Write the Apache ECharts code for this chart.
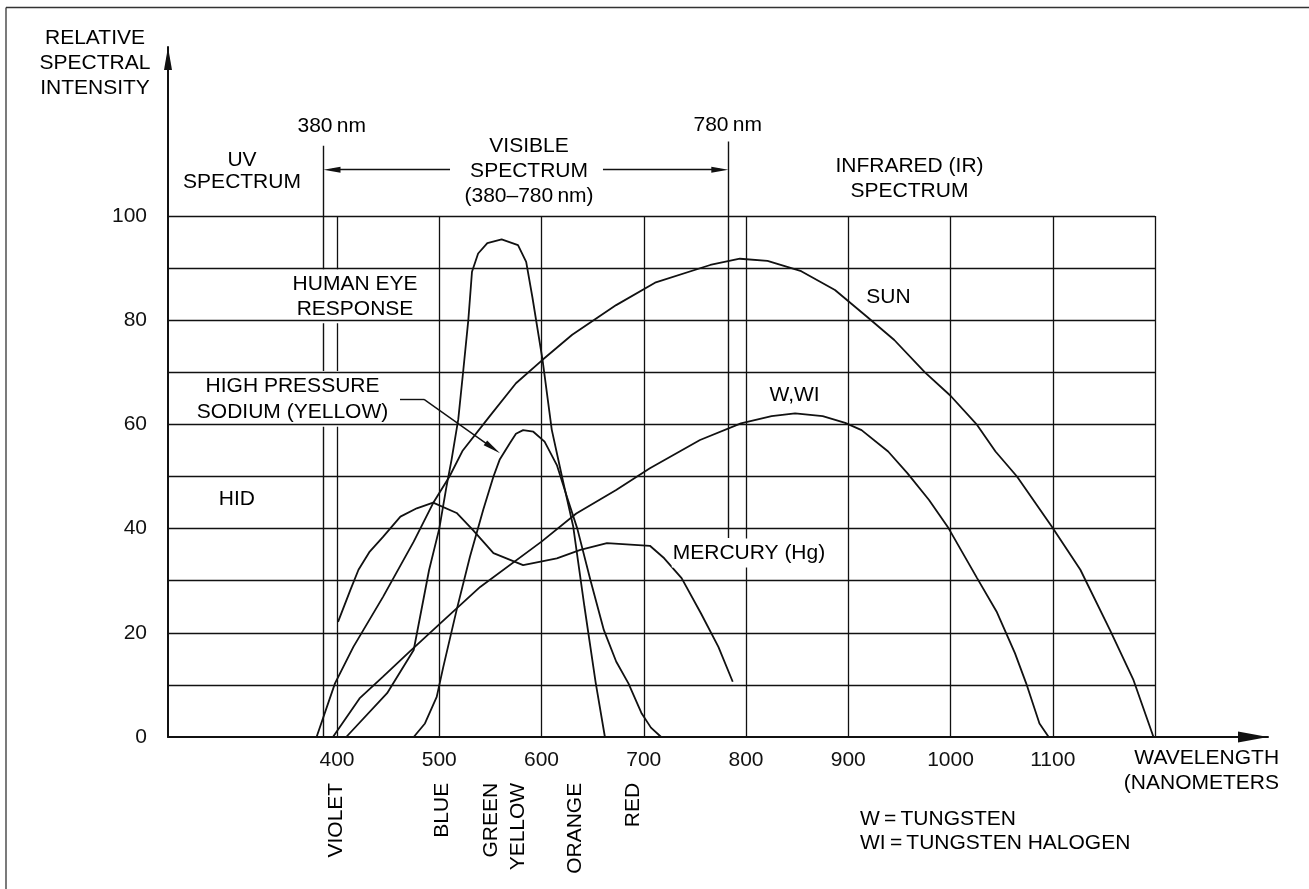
<!DOCTYPE html>
<html><head><meta charset="utf-8">
<script src="https://cdn.jsdelivr.net/npm/echarts@6/dist/echarts.min.js"></script>
<style>html,body{margin:0;padding:0;background:#fff}#c{width:1309px;height:889px}</style>
</head><body><div id="c"></div>
<script>
// ---------- data ----------
const xTickLabels = [400, 500, 600, 700, 800, 900, 1000, 1100];
const yTickLabels = [0, 20, 40, 60, 80, 100];
const xGridLines = [400, 500, 600, 700, 800, 900, 1000, 1100, 1200];
const yGridLines = [10, 20, 30, 40, 50, 60, 70, 80, 90, 100];
const colorBands = ['VIOLET', 'BLUE', 'GREEN', 'YELLOW', 'ORANGE', 'RED'];
const colorBandNm = [398, 501.7, 550.1, 576, 631.8, 688.5];

const sun = [[380,0],[398,10.3],[416,17.3],[445,26.9],[475,37.5],[494,44.9],[510,50],[523,55],[549,61.5],[575,67.9],[601,72.4],[630,77.2],[673,82.9],[711,87.2],[765,90.6],[794,91.8],[821,91.4],[854,89.4],[887,85.8],[918,80.7],[945,76.2],[975,70],[1000,65.5],[1026,59.9],[1044,54.8],[1065,50],[1099,40.4],[1127,32.1],[1156,20.5],[1179,10.9],[1198.5,0]];
const tungsten = [[396,0],[422,7.4],[445,11.6],[471,16.4],[501,21.8],[540,28.8],[600,37.5],[634,42.9],[673,47.4],[706,51.6],[755,57],[795,60.2],[825,61.6],[848,62.1],[875,61.6],[897,60.3],[913,58.9],[939,54.8],[958,50.6],[979,45.5],[998,40.1],[1026,30.5],[1045,24.1],[1063,16.1],[1074,10.3],[1087,2.6],[1096,0]];
const humanEye = [[409,0],[449,8.4],[475,16.7],[490,32],[500,40],[507,48],[512,53.2],[518.6,61],[523.5,70.4],[528.4,80],[532,89.3],[538,92.8],[547,94.8],[561,95.5],[577,94.4],[585,91.2],[591,84.5],[601,72.4],[610,59],[620,50],[631,40.4],[642,25],[653,10.4],[662,0]];
const sodium = [[475,0],[486,2.6],[497.5,7.7],[504,13.5],[517,24.4],[530,34.6],[543,43.6],[553,50],[559,53.2],[569,56.4],[575,58.2],[582,58.9],[592,58.6],[603,56.7],[615,52.2],[625,46],[635,40],[648,30],[661,20.5],[673,14.5],[685,10.3],[698,4.5],[707,1.8],[717,0]];
const mercury = [[401,22.1],[413,28.2],[421,32.1],[432,35.6],[445,38.4],[462,42.3],[478,43.9],[494,45],[517,43],[533,39.7],[553,35.3],[582,33],[615,34.3],[638,35.9],[664,37.2],[706,36.7],[720,34.3],[737,30.5],[756,23.7],[773,17.3],[787,10.6]];

// ---------- layout ----------
const FONT = '"Liberation Sans", Arial, Helvetica, sans-serif';
const INK = '#111';
const X_MIN = 234.7, X_MAX = 1310.5, Y_MAX = 132.44;

const hGridSegs = yGridLines.map(v => [{coord:[X_MIN, v]}, {coord:[1200, v]}]);
const vGridSegs = xGridLines.map(v => [{coord:[v, 0]}, {coord:[v, 100]}]);

const annotSegs = [
  [{coord:[386.8, 0]}, {coord:[386.8, 113.5]}],
  [{coord:[782.7, 38.2]}, {coord:[782.7, 114.3]}],
  [{coord:[510.5, 108.9]}, {coord:[395.1, 108.9], symbol:'triangle', symbolSize:[6,17]}],
  [{coord:[660.1, 108.9]}, {coord:[774.4, 108.9], symbol:'triangle', symbolSize:[6,17]}],
  [{coord:[461.6, 64.8]}, {coord:[485.1, 64.8]}],
  [{coord:[485.1, 64.8]}, {coord:[552.3, 55.45], symbol:'triangle', symbolSize:[6,18]}]
];

function curve(name, data) {
  return {name, type:'line', data, showSymbol:false, symbol:'none', smooth:false,
    lineStyle:{color:INK, width:1.8}, z:3, silent:true, animation:false};
}
function markSeries(name, z, segs, width) {
  return {name, type:'line', data:[[X_MIN,0]], showSymbol:false, lineStyle:{width:0}, silent:true, z,
    markLine:{z, silent:true, symbol:'none', animation:false, label:{show:false},
      lineStyle:{type:'solid', color:INK, width}, itemStyle:{color:INK}, emphasis:{disabled:true}, data:segs}};
}

const chart = echarts.init(document.getElementById('c'));
chart.setOption({
  backgroundColor:'#fff',
  animation:false,
  grid:{left:168, right:41, top:47, bottom:152},
  xAxis:{type:'value', min:X_MIN, max:X_MAX, splitLine:{show:false}, axisTick:{show:false},
    axisLine:{show:true, onZero:false, lineStyle:{color:INK, width:2}, symbol:['none','triangle'], symbolSize:[11,30], symbolOffset:[0,-15]},
    axisLabel:{customValues:xTickLabels, formatter:v => String(v), fontSize:21, fontFamily:FONT, color:INK, margin:13}},
  yAxis:{type:'value', min:0, max:Y_MAX, splitLine:{show:false}, axisTick:{show:false},
    axisLine:{show:true, onZero:false, lineStyle:{color:INK, width:2}, symbol:['none','triangle'], symbolSize:[8,23], symbolOffset:[0,-11.5]},
    axisLabel:{customValues:yTickLabels, formatter:v => String(v), fontSize:21, fontFamily:FONT, color:INK, margin:21, padding:[4,0,0,0]}},
  series:[
    markSeries('vgrid', 1, vGridSegs, 1.3),
    markSeries('annot', 2, annotSegs, 1.4),
    markSeries('hgrid', 150, hGridSegs, 1.3),
    curve('Sun', sun),
    curve('W,WI', tungsten),
    curve('Human eye', humanEye),
    curve('High pressure sodium', sodium),
    curve('HID / Mercury', mercury)
  ]
});

const labels = [
  {t:'RELATIVE\nSPECTRAL\nINTENSITY', p:[163.3,129.4], lh:25},
  {t:'380\u2009nm', p:[394.8,117.3]},
  {t:'UV\nSPECTRUM', p:[307.1,108.6], lh:21.3},
  {t:'VISIBLE\nSPECTRUM\n(380–780\u2009nm)', p:[587.8,108.6], lh:24.6},
  {t:'780\u2009nm', p:[782.1,117.4]},
  {t:'INFRARED (IR)\nSPECTRUM', p:[959.9,107.2], lh:24.5},
  {t:'HUMAN EYE\nRESPONSE', p:[417.6,84.6], lh:25, bg:true},
  {t:'SUN', p:[939.3,84.5]},
  {t:'W,WI', p:[847.5,65.7]},
  {t:'HIGH PRESSURE\nSODIUM (YELLOW)', p:[356.5,64.9], lh:25.9, bg:true},
  {t:'HID', p:[302,45.6]},
  {t:'MERCURY (Hg)', p:[802.9,35.3], bg:true},
  {t:'WAVELENGTH\n(NANOMETERS', p:[1321.3,-6.5], align:'right', lh:24.6},
  {t:'W\u2009=\u2009TUNGSTEN\nWI\u2009=\u2009TUNGSTEN HALOGEN', p:[911.5,-18.1], align:'left', lh:24.3}
];

const P = (x, y) => chart.convertToPixel({gridIndex:0}, [x, y]);
const graphics = [
  {type:'line', shape:{x1:6, y1:7.5, x2:1309, y2:7.5}, style:{stroke:'#333', lineWidth:1.3}, z:100},
  {type:'line', shape:{x1:6, y1:7.5, x2:6, y2:889}, style:{stroke:'#333', lineWidth:1.3}, z:100}
];
labels.forEach(l => {
  const pt = P(l.p[0], l.p[1]);
  graphics.push({type:'text', x:pt[0], y:pt[1], z:100, silent:true,
    style:{text:l.t, font:'21px ' + FONT, fill:'#000', align:l.align || 'center', verticalAlign:'middle',
      lineHeight:l.lh || 25, backgroundColor:l.bg ? '#fff' : null, padding:l.bg ? [2,1] : 0}});
});
colorBands.forEach((name, i) => {
  const pt = P(colorBandNm[i], -8.8);
  graphics.push({type:'text', x:pt[0] + 1, y:pt[1], rotation:Math.PI / 2, z:100, silent:true,
    style:{text:name, font:'21px ' + FONT, fill:'#000', align:'right', verticalAlign:'middle'}});
});
chart.setOption({graphic:graphics});
</script></body></html>
